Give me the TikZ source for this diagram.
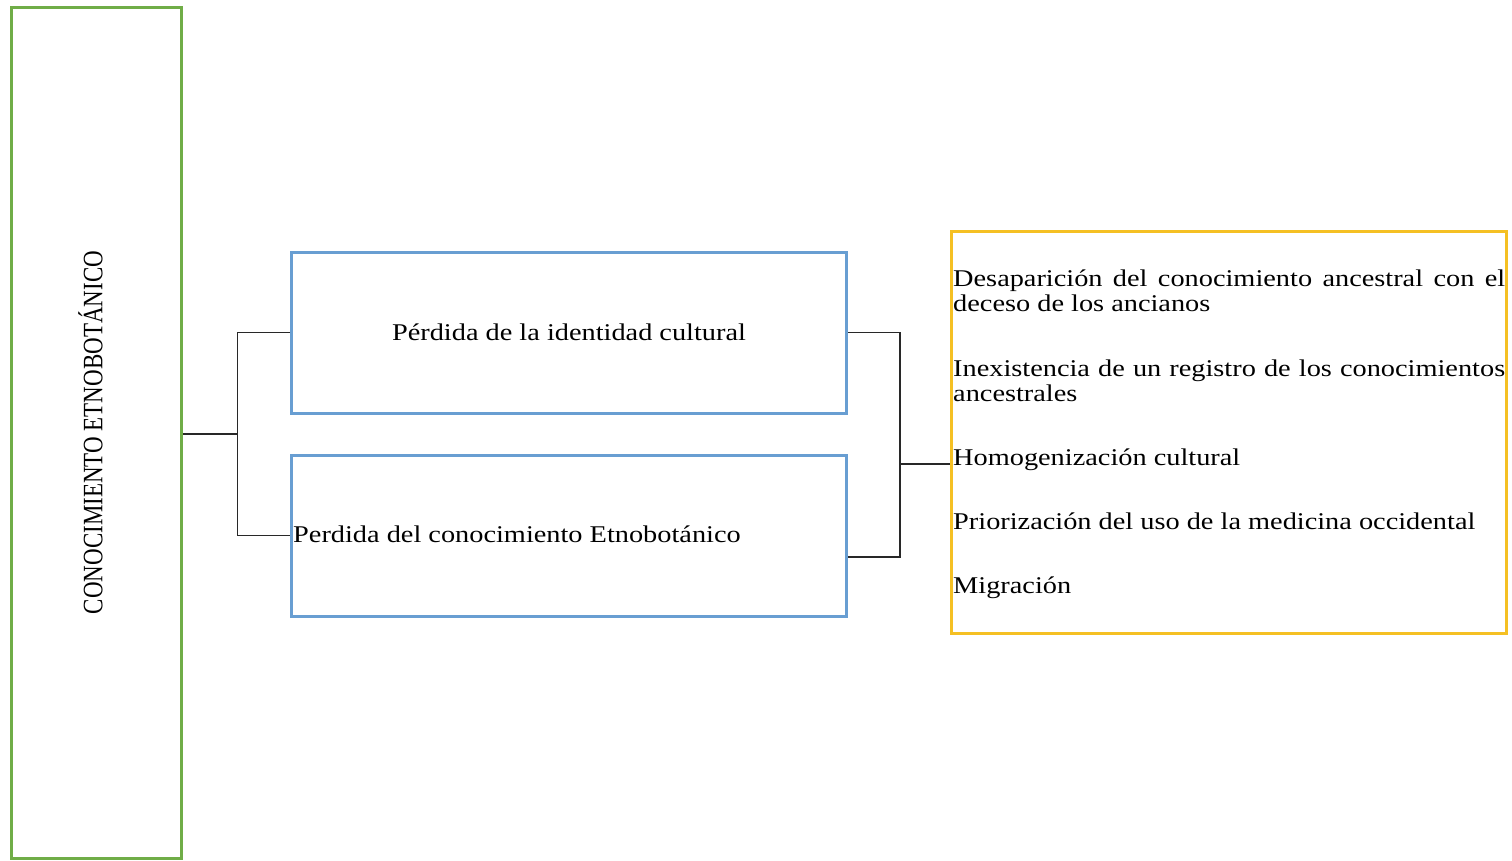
\documentclass[tikz,border=0pt]{standalone}
\usepackage{fontspec}
\setmainfont{Liberation Serif}[FakeStretch=1.18]
\newfontfamily\plainserif{Liberation Serif}
\usetikzlibrary{calc}
\definecolor{gboxc}{RGB}{112,173,71}
\definecolor{bboxc}{RGB}{104,158,210}
\definecolor{yboxc}{RGB}{245,192,35}
\definecolor{linec}{RGB}{40,40,40}
\begin{document}
\begin{tikzpicture}[x=1pt,y=-1pt,
  frame/.style={draw, line width=3pt, inner sep=0pt, rectangle},
  lbl/.style={inner sep=0pt, font=\fontsize{24}{25}\selectfont},
  conn/.style={draw=linec, line width=1.3pt}]
\useasboundingbox[fill=white] (0,0) rectangle (1512,860);
% main boxes
\node[frame, draw=gboxc, minimum width=170pt, minimum height=851pt] (g) at (96.5,432.5)
  {\scalebox{1.22}[1]{\rotatebox{90}{\plainserif\fontsize{23}{25}\selectfont CONOCIMIENTO ETNOBOTÁNICO}}\hspace*{12pt}};
\node[frame, draw=bboxc, minimum width=555pt, minimum height=161pt, lbl] (b1) at (569,332.5)
  {Pérdida de la identidad cultural};
\node[frame, draw=bboxc, minimum width=555pt, minimum height=161pt] (b2) at (569,535.5) {};
\node[lbl, anchor=base west] (t2) at (293,542) {Perdida del conocimiento Etnobotánico};
\node[frame, draw=yboxc, minimum width=555pt, minimum height=402pt] (yb) at (1228.5,432) {};
% yellow box texts
\node[lbl, anchor=base west] (y1) at (953,286)
  {\parbox[t]{552pt}{Desaparición del conocimiento ancestral con el\linebreak deceso de los ancianos}};
\node[lbl, anchor=base west] (y2) at (953,376)
  {\parbox[t]{552pt}{Inexistencia de un registro de los conocimientos\linebreak ancestrales}};
\node[lbl, anchor=base west] (y3) at (953,465) {Homogenización cultural};
\node[lbl, anchor=base west] (y4) at (953,529) {Priorización del uso de la medicina occidental};
\node[lbl, anchor=base west] (y5) at (953,593) {Migración};
% connectors
\coordinate (jl) at ($(g.east)+(54.5,1.5)$);
\draw[conn] (g.east |- jl) -- (jl);
\draw[conn] (b1.west) -| (jl) |- (b2.west);
\coordinate (jr) at (900,464);
\coordinate (b2r) at ($(b2.east)+(0,21.5)$);
\draw[conn] (b1.east) -| (jr) |- (b2r);
\draw[conn] (jr) -- (jr -| yb.west);
\end{tikzpicture}
\end{document}
